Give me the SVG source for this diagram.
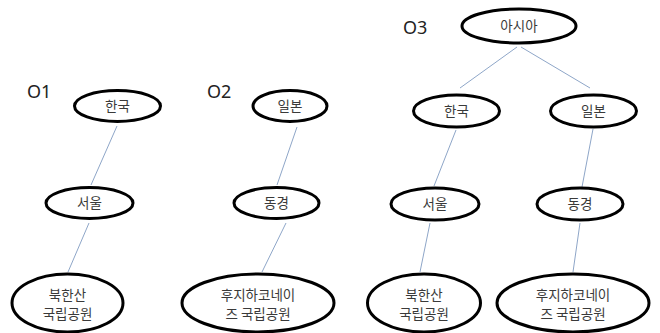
<svg xmlns="http://www.w3.org/2000/svg" width="660" height="333" viewBox="0 0 660 333">
<style>
.n ellipse{fill:#fff;stroke:#000;stroke-width:3}
.n text{font-family:"Noto Sans CJK KR","Noto Sans",sans-serif;font-size:13.5px;fill:#3a3a3a;text-anchor:middle}
.lbl{font-family:"Noto Sans","Liberation Sans",sans-serif;font-size:18px;fill:#222}
#edges line{stroke:#8ea6c8;stroke-width:1}
</style>
<rect width="660" height="333" fill="#fff"/>
<text class="lbl" x="27" y="98">O1</text>
<text class="lbl" x="207" y="98">O2</text>
<text class="lbl" x="403" y="34">O3</text>
<g id="edges">
<line x1="117" y1="126" x2="91" y2="185"/>
<line x1="89" y1="223" x2="68" y2="272"/>
<line x1="297" y1="127" x2="277" y2="185"/>
<line x1="286" y1="223" x2="262" y2="272"/>
<line x1="517" y1="47" x2="460" y2="88"/>
<line x1="521" y1="47" x2="590" y2="88"/>
<line x1="456" y1="130" x2="434" y2="186"/>
<line x1="593" y1="129" x2="582" y2="187"/>
<line x1="430" y1="223" x2="420" y2="272"/>
<line x1="580" y1="223" x2="573" y2="272"/>
</g>
<g id="o1-korea" class="n"><ellipse cx="117.5" cy="106" rx="43" ry="15.5"/><text x="117.5" y="111">한국</text></g>
<g id="o1-seoul" class="n"><ellipse cx="89.5" cy="203" rx="43.5" ry="15.5"/><text x="89.5" y="208">서울</text></g>
<g id="o1-bukhansan" class="n"><ellipse cx="67.5" cy="303" rx="55.5" ry="29"/><text x="67.5" y="300">북한산</text><text x="67.5" y="319">국립공원</text></g>
<g id="o2-japan" class="n"><ellipse cx="290" cy="106" rx="37" ry="15.5"/><text x="290" y="111">일본</text></g>
<g id="o2-tokyo" class="n"><ellipse cx="276.5" cy="203" rx="42.5" ry="15.5"/><text x="276.5" y="208">동경</text></g>
<g id="o2-fuji" class="n"><ellipse cx="258" cy="303" rx="76" ry="29"/><text x="258" y="300">후지하코네이</text><text x="258" y="319">즈 국립공원</text></g>
<g id="o3-asia" class="n"><ellipse cx="519" cy="26" rx="57" ry="17"/><text x="519" y="31">아시아</text></g>
<g id="o3-korea" class="n"><ellipse cx="456.5" cy="111" rx="43" ry="16"/><text x="456.5" y="116">한국</text></g>
<g id="o3-japan" class="n"><ellipse cx="593.5" cy="111" rx="43" ry="16"/><text x="593.5" y="116">일본</text></g>
<g id="o3-seoul" class="n"><ellipse cx="435" cy="204" rx="44" ry="16"/><text x="435" y="209">서울</text></g>
<g id="o3-tokyo" class="n"><ellipse cx="580" cy="204" rx="43" ry="16"/><text x="580" y="209">동경</text></g>
<g id="o3-bukhansan" class="n"><ellipse cx="424" cy="303" rx="56.5" ry="29"/><text x="424" y="300">북한산</text><text x="424" y="319">국립공원</text></g>
<g id="o3-fuji" class="n"><ellipse cx="573" cy="303" rx="76" ry="29"/><text x="573" y="300">후지하코네이</text><text x="573" y="319">즈 국립공원</text></g>
</svg>
